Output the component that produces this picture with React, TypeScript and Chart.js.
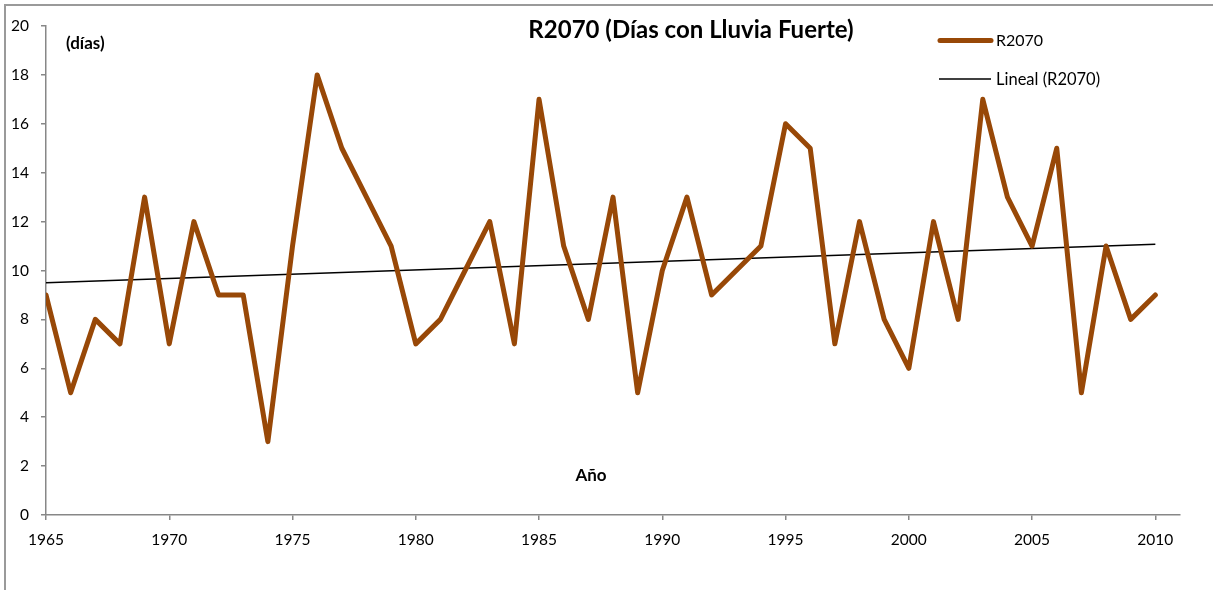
import React, { useEffect, useRef } from "react";
import { Chart, registerables } from "chart.js";

Chart.register(...registerables);

const chartTitle = "R2070 (Días con Lluvia Fuerte)";
const yAxisLabel = "(días)";
const xAxisLabel = "Año";
const seriesName = "R2070";
const trendName = "Lineal (R2070)";

const years = [
  1965, 1966, 1967, 1968, 1969, 1970, 1971, 1972, 1973, 1974,
  1975, 1976, 1977, 1978, 1979, 1980, 1981, 1982, 1983, 1984,
  1985, 1986, 1987, 1988, 1989, 1990, 1991, 1992, 1993, 1994,
  1995, 1996, 1997, 1998, 1999, 2000, 2001, 2002, 2003, 2004,
  2005, 2006, 2007, 2008, 2009, 2010,
];
const r2070 = [
  9, 5, 8, 7, 13, 7, 12, 9, 9, 3,
  11, 18, 15, 13, 11, 7, 8, 10, 12, 7,
  17, 11, 8, 13, 5, 10, 13, 9, 10, 11,
  16, 15, 7, 12, 8, 6, 12, 8, 17, 13,
  11, 15, 5, 11, 8, 9,
];
const trendYears = [1965, 2010];
const trendValues = [9.5, 11.07];

const xMin = 1965;
const xMax = 2011;
const xStep = 5;
const yMin = 0;
const yMax = 20;
const yStep = 2;

const BROWN = "#984807";
const AXIS = "#878787";
const FONT = "Lato, 'Open Sans', sans-serif";

export default function App() {
  const ref = useRef<HTMLCanvasElement | null>(null);

  useEffect(() => {
    const canvas = ref.current;
    if (!canvas) return;

    const decor = {
      id: "decor",
      beforeDraw(chart: any) {
        const ctx = chart.ctx;
        ctx.save();
        ctx.fillStyle = "#ffffff";
        ctx.fillRect(0, 0, chart.width, chart.height);
        ctx.strokeStyle = "#9a9a9a";
        ctx.lineWidth = 2;
        ctx.beginPath();
        ctx.moveTo(5, chart.height);
        ctx.lineTo(5, 5);
        ctx.lineTo(chart.width, 5);
        ctx.stroke();
        ctx.restore();
      },
      afterDraw(chart: any) {
        const ctx = chart.ctx;
        ctx.save();
        ctx.fillStyle = "#000000";
        ctx.textBaseline = "alphabetic";
        // title
        ctx.font = `bold 24px ${FONT}`;
        ctx.textAlign = "center";
        ctx.fillText(chartTitle, 691, 38);
        // axis titles
        ctx.font = `bold 17px ${FONT}`;
        ctx.textAlign = "left";
        ctx.fillText(yAxisLabel, 66, 49);
        ctx.font = `bold 17px ${FONT}`;
        ctx.textAlign = "center";
        ctx.fillText(xAxisLabel, 591, 481);
        // legend
        ctx.lineCap = "round";
        ctx.strokeStyle = BROWN;
        ctx.lineWidth = 5;
        ctx.beginPath();
        ctx.moveTo(940, 40.5);
        ctx.lineTo(991, 40.5);
        ctx.stroke();
        ctx.lineCap = "butt";
        ctx.strokeStyle = "#000000";
        ctx.lineWidth = 1.5;
        ctx.beginPath();
        ctx.moveTo(939, 79);
        ctx.lineTo(991, 79);
        ctx.stroke();
        ctx.font = `16px ${FONT}`;
        ctx.textAlign = "left";
        ctx.fillText(seriesName, 996, 46);
        ctx.font = `16.5px ${FONT}`;
        ctx.fillText(trendName, 996, 85);
        ctx.restore();
      },
    };

    const chart = new Chart(canvas, {
      type: "line",
      data: {
        datasets: [
          {
            label: seriesName,
            data: years.map((x, i) => ({ x, y: r2070[i] })),
            borderColor: BROWN,
            backgroundColor: BROWN,
            borderWidth: 5,
            pointRadius: 0,
            borderJoinStyle: "round",
            borderCapStyle: "round",
            tension: 0,
            fill: false,
          },
          {
            label: trendName,
            data: trendYears.map((x, i) => ({ x, y: trendValues[i] })),
            borderColor: "#000000",
            backgroundColor: "#000000",
            borderWidth: 1.5,
            pointRadius: 0,
            tension: 0,
            fill: false,
          },
        ],
      },
      options: {
        responsive: false,
        animation: false,
        devicePixelRatio: 1,
        layout: { padding: { left: 0, top: 26, right: 33, bottom: 0 } },
        plugins: {
          legend: { display: false },
          title: { display: false },
          tooltip: { enabled: false },
        },
        scales: {
          x: {
            type: "linear",
            min: xMin,
            max: xMax,
            afterFit: (s: any) => {
              s.height = 75;
            },
            ticks: {
              stepSize: xStep,
              includeBounds: false,
              autoSkip: false,
              maxRotation: 0,
              padding: 11,
              color: "#000000",
              font: { family: FONT, size: 15.5 },
              callback: (v: any) => String(v),
            },
            grid: {
              drawOnChartArea: false,
              drawTicks: true,
              tickLength: 5,
              color: AXIS,
              lineWidth: 1.5,
            },
            border: { color: AXIS, width: 1.5 },
          },
          y: {
            min: yMin,
            max: yMax,
            afterFit: (s: any) => {
              s.width = 46;
            },
            ticks: {
              stepSize: yStep,
              padding: 12,
              color: "#000000",
              font: { family: FONT, size: 15.5 },
            },
            grid: {
              drawOnChartArea: false,
              drawTicks: true,
              tickLength: 5,
              color: AXIS,
              lineWidth: 1.5,
            },
            border: { color: AXIS, width: 1.5 },
          },
        },
      },
      plugins: [decor],
    } as any);

    return () => chart.destroy();
  }, []);

  return (
    <div style={{ position: "absolute", left: 0, top: 0, width: 1213, height: 590, background: "#fff" }}>
      <canvas ref={ref} width={1213} height={590} style={{ display: "block" }} />
    </div>
  );
}
